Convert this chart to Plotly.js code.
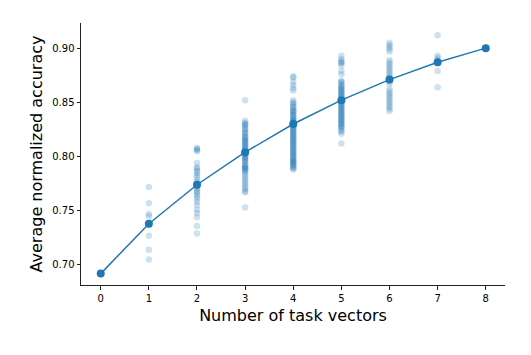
<!DOCTYPE html>
<html>
<head>
<meta charset="utf-8">
<script src="https://cdn.plot.ly/plotly-3.0.1.min.js"></script>
<style>html,body{margin:0;padding:0;background:#fff;}#chart{width:531px;height:355px;}</style>
</head>
<body>
<div id="chart"></div>
<script>
// Number of task vectors
const numVectors = [0, 1, 2, 3, 4, 5, 6, 7, 8];
// Mean accuracy per number of task vectors
const meanAccuracy = [0.692, 0.738, 0.774, 0.804, 0.830, 0.852, 0.871, 0.887, 0.900];

// Individual subset accuracies per number of task vectors
const runs0 = [0.692];
const runs1 = [0.772, 0.757, 0.747, 0.745, 0.737, 0.727, 0.714, 0.705];
const runs2 = [0.808, 0.807, 0.806, 0.805, 0.794, 0.790, 0.789, 0.787, 0.785, 0.783, 0.781, 0.778, 0.776, 0.774,
               0.772, 0.770, 0.768, 0.767, 0.765, 0.763, 0.761, 0.758, 0.755, 0.751, 0.748, 0.744, 0.736, 0.729];
const runs3 = [0.852, 0.833, 0.831, 0.830, 0.829, 0.828, 0.826, 0.825, 0.823, 0.822, 0.821, 0.819, 0.818, 0.817,
               0.816, 0.815, 0.814, 0.813, 0.812, 0.811, 0.810, 0.809, 0.808, 0.807, 0.806, 0.805, 0.804, 0.803,
               0.802, 0.801, 0.800, 0.799, 0.798, 0.797, 0.796, 0.795, 0.793, 0.792, 0.791, 0.790, 0.789, 0.789,
               0.788, 0.787, 0.786, 0.784, 0.782, 0.780, 0.778, 0.776, 0.774, 0.772, 0.770, 0.768, 0.767, 0.753];
const runs4 = [0.874, 0.873, 0.869, 0.866, 0.863, 0.861, 0.852, 0.850, 0.849, 0.847, 0.846, 0.845, 0.843, 0.842,
               0.841, 0.841, 0.839, 0.838, 0.837, 0.836, 0.835, 0.834, 0.833, 0.832, 0.832, 0.831, 0.830, 0.829,
               0.828, 0.827, 0.826, 0.825, 0.824, 0.823, 0.822, 0.821, 0.820, 0.819, 0.818, 0.817, 0.816, 0.815,
               0.814, 0.813, 0.812, 0.811, 0.810, 0.809, 0.808, 0.807, 0.806, 0.805, 0.804, 0.803, 0.802, 0.801,
               0.800, 0.799, 0.798, 0.797, 0.796, 0.795, 0.795, 0.794, 0.793, 0.792, 0.791, 0.790, 0.789, 0.788];
const runs5 = [0.893, 0.890, 0.888, 0.887, 0.886, 0.884, 0.879, 0.876, 0.870, 0.869, 0.868, 0.866, 0.865, 0.864,
               0.863, 0.862, 0.861, 0.860, 0.859, 0.858, 0.857, 0.856, 0.855, 0.854, 0.853, 0.852, 0.851, 0.850,
               0.849, 0.848, 0.847, 0.846, 0.845, 0.844, 0.843, 0.842, 0.841, 0.840, 0.839, 0.838, 0.837, 0.836,
               0.835, 0.834, 0.833, 0.832, 0.831, 0.830, 0.829, 0.828, 0.827, 0.826, 0.824, 0.823, 0.821, 0.812];
const runs6 = [0.905, 0.903, 0.901, 0.899, 0.897, 0.889, 0.887, 0.885, 0.883, 0.881, 0.879, 0.877, 0.875, 0.873,
               0.871, 0.869, 0.867, 0.862, 0.860, 0.858, 0.856, 0.854, 0.852, 0.850, 0.848, 0.846, 0.844, 0.842];
const runs7 = [0.912, 0.893, 0.891, 0.889, 0.887, 0.886, 0.879, 0.864];
const runs8 = [0.900];

const allRuns = [runs0, runs1, runs2, runs3, runs4, runs5, runs6, runs7, runs8];
const scatterX = [], scatterY = [];
allRuns.forEach((arr, i) => arr.forEach(v => { scatterX.push(numVectors[i]); scatterY.push(v); }));

const blue = '#1f77b4';
const font = 'DejaVu Sans, Liberation Sans, sans-serif';

const traces = [
  {
    x: scatterX, y: scatterY, type: 'scatter', mode: 'markers',
    marker: {color: blue, size: 6.5, opacity: 0.22, line: {width: 0}},
    hoverinfo: 'skip', showlegend: false
  },
  {
    x: numVectors, y: meanAccuracy, type: 'scatter', mode: 'lines+markers',
    line: {color: blue, width: 1.5},
    marker: {color: blue, size: 8},
    showlegend: false
  }
];

const axisCommon = {
  showgrid: false, zeroline: false, showline: true,
  linecolor: '#222', linewidth: 1,
  ticks: 'outside', ticklen: 3.5, tickwidth: 1, tickcolor: '#222',
  tickfont: {family: font, size: 10, color: '#000'},
  mirror: false
};

const layout = {
  width: 531, height: 355,
  margin: {l: 81, r: 26, t: 23, b: 70, pad: 0},
  paper_bgcolor: '#fff', plot_bgcolor: '#fff',
  font: {family: font, color: '#000'},
  xaxis: Object.assign({}, axisCommon, {
    range: [-0.41, 8.4],
    tickvals: numVectors,
    ticktext: numVectors.map(String),
    title: {text: 'Number of task vectors', font: {family: font, size: 16, color: '#000'}, standoff: 7}
  }),
  yaxis: Object.assign({}, axisCommon, {
    range: [0.6815, 0.9232],
    tickvals: [0.70, 0.75, 0.80, 0.85, 0.90],
    ticktext: ['0.70', '0.75', '0.80', '0.85', '0.90'],
    title: {text: 'Average normalized accuracy', font: {family: font, size: 16, color: '#000'}, standoff: 5}
  })
};

Plotly.newPlot('chart', traces, layout, {displayModeBar: false, staticPlot: true});
</script>
</body>
</html>
